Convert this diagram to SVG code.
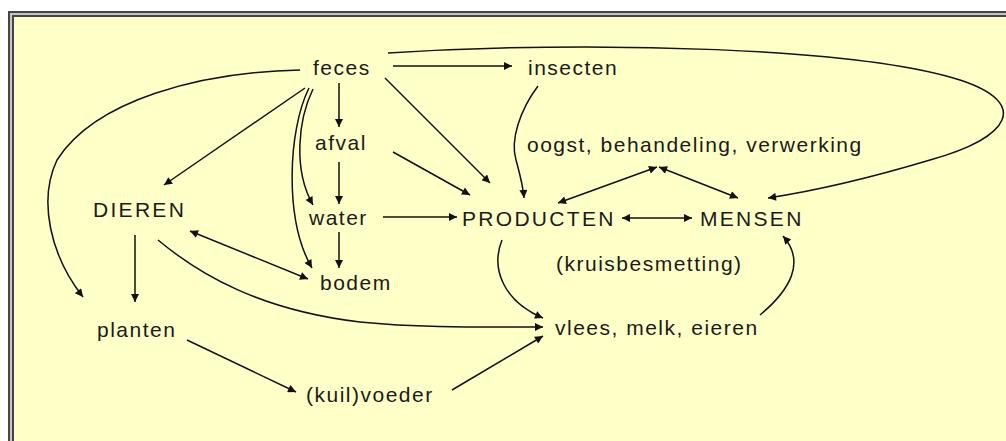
<svg xmlns="http://www.w3.org/2000/svg" width="1006" height="441" viewBox="0 0 1006 441">
<style>
.t{font-family:"Liberation Sans",Arial,sans-serif;font-size:21px;fill:#1a1a1a;letter-spacing:1.5px}
.u{letter-spacing:2.3px}
.c{fill:none;stroke:#111;stroke-width:1.5}
</style>
<defs>
<marker id="ah" viewBox="0 0 10 10" refX="10" refY="5" markerWidth="10" markerHeight="8" markerUnits="userSpaceOnUse" orient="auto-start-reverse">
<path d="M0,0 L10,5 L0,10 z" fill="#111"/>
</marker>
</defs>
<rect width="1006" height="441" fill="#ffffff"/>
<g id="frame">
<rect x="8" y="11" width="1010" height="440" fill="#c4c4c4"/>
<rect x="9" y="12" width="1010" height="440" fill="none" stroke="#454545" stroke-width="2"/>
<rect x="13" y="16" width="1010" height="440" fill="#ffffc8" stroke="#454545" stroke-width="2"/>
</g>
<g id="connectors">
<path class="c" d="M393 66 L512 66" marker-end="url(#ah)"/>
<path class="c" d="M388 53 C600 40 860 48 960 80 C1030 103 1012 137 930 160 C870 178 820 190 768 198" marker-end="url(#ah)"/>
<path class="c" d="M305 88 L164 185" marker-end="url(#ah)"/>
<path class="c" d="M300 70 C200 72 95 100 57 160 C38 200 50 255 83 297" marker-end="url(#ah)"/>
<path class="c" d="M339 83 L339 127" marker-end="url(#ah)"/>
<path class="c" d="M339 162 L339 204" marker-end="url(#ah)"/>
<path class="c" d="M339 232 L339 268" marker-end="url(#ah)"/>
<path class="c" d="M313 89 C298 120 293 170 313 205" marker-end="url(#ah)"/>
<path class="c" d="M309 88 C288 130 284 220 312 268" marker-end="url(#ah)"/>
<path class="c" d="M393 152 L470 195" marker-end="url(#ah)"/>
<path class="c" d="M385 78 L490 183" marker-end="url(#ah)"/>
<path class="c" d="M538 86 C520 110 510 140 516 160 C520 175 523 185 524 198" marker-end="url(#ah)"/>
<path class="c" d="M383 217 L457 217" marker-end="url(#ah)"/>
<path class="c" d="M622 218 L692 218" marker-start="url(#ah)" marker-end="url(#ah)"/>
<path class="c" d="M558 203 L657 167" marker-start="url(#ah)" marker-end="url(#ah)"/>
<path class="c" d="M659 167 L738 198" marker-start="url(#ah)" marker-end="url(#ah)"/>
<path class="c" d="M190 231 L308 279" marker-start="url(#ah)" marker-end="url(#ah)"/>
<path class="c" d="M158 240 C200 275 260 310 360 322 C420 328 480 327 543 327" marker-end="url(#ah)"/>
<path class="c" d="M135 235 L135 302" marker-end="url(#ah)"/>
<path class="c" d="M187 340 L296 392" marker-end="url(#ah)"/>
<path class="c" d="M452 390 L543 336" marker-end="url(#ah)"/>
<path class="c" d="M502 240 C490 270 505 302 543 318" marker-end="url(#ah)"/>
<path class="c" d="M760 315 C790 290 806 262 783 236" marker-end="url(#ah)"/>
</g>
<g id="feces"><text class="t" x="313" y="75">feces</text></g>
<g id="insecten"><text class="t" x="528" y="75">insecten</text></g>
<g id="afval"><text class="t" x="315" y="150">afval</text></g>
<g id="oogst"><text class="t" x="527" y="152">oogst, behandeling, verwerking</text></g>
<g id="dieren"><text class="t u" x="93" y="217">DIEREN</text></g>
<g id="water"><text class="t" x="309" y="225">water</text></g>
<g id="producten"><text class="t u" x="462" y="226">PRODUCTEN</text></g>
<g id="mensen"><text class="t u" x="700" y="226">MENSEN</text></g>
<g id="bodem"><text class="t" x="320" y="290">bodem</text></g>
<g id="kruisbesmetting"><text class="t" x="556" y="271">(kruisbesmetting)</text></g>
<g id="planten"><text class="t" x="97" y="337">planten</text></g>
<g id="vlees"><text class="t" x="555" y="335">vlees, melk, eieren</text></g>
<g id="voeder"><text class="t" x="306" y="402">(kuil)voeder</text></g>
</svg>
